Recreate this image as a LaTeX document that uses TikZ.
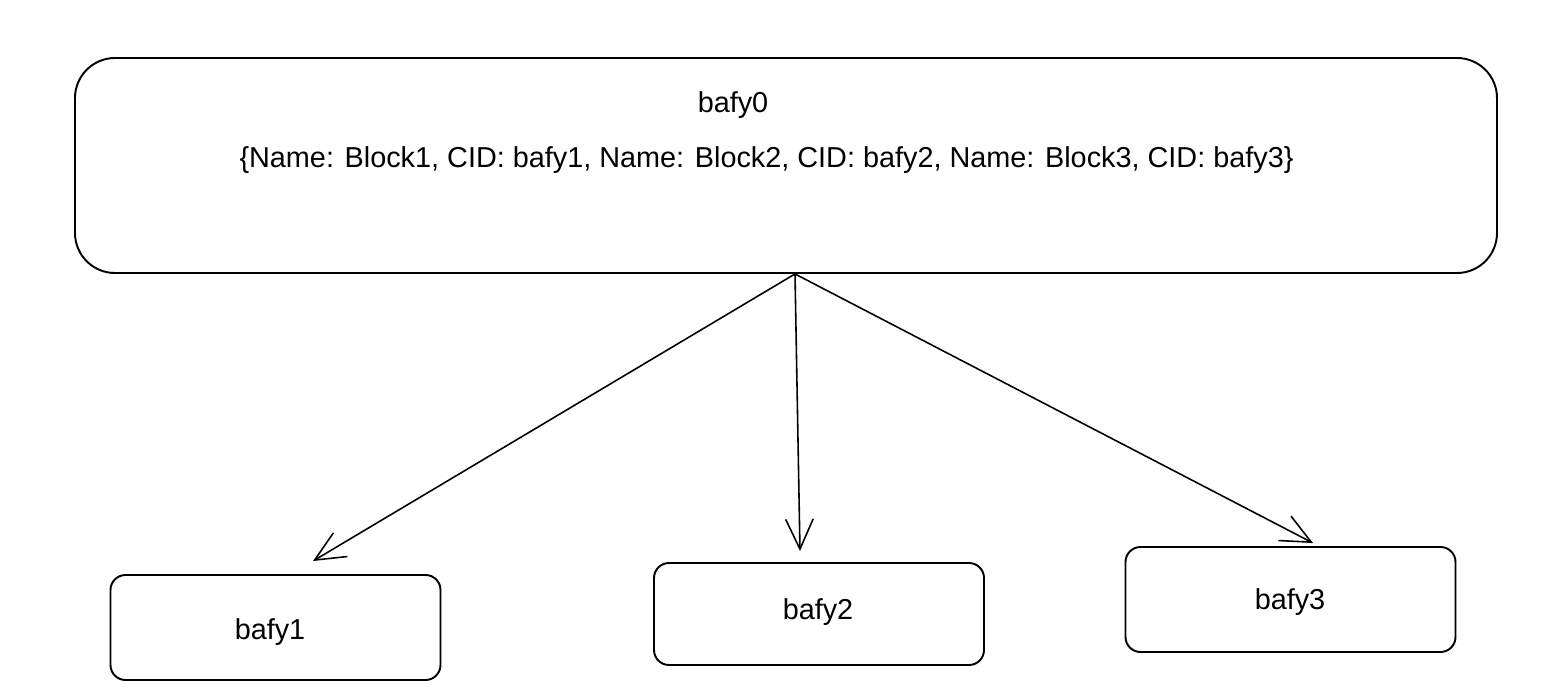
\documentclass[tikz,border=0pt]{standalone}
\usepackage{fontspec}
\setmainfont{Liberation Sans}
\usetikzlibrary{shapes,arrows.meta}
\tikzstyle{bigblock} = [rectangle,rounded corners=0.8cm,minimum width=28.44cm,minimum height=4.3cm,draw=black,line width=1.1pt]
\tikzstyle{block} = [rectangle,rounded corners=0.3cm,minimum width=6.6cm,minimum height=2.1cm,align=center,draw=black,line width=1.1pt]
\tikzstyle{label} = [font=\fontsize{16.4}{19}\selectfont]
\tikzstyle{arrow} = [line width=0.9pt, -{Straight Barb[length=0.6cm,width=0.55cm]}]

\begin{document}
\begin{tikzpicture}

\useasboundingbox (0,0) rectangle (31.16,-13.92);

\node (top) [bigblock] at (15.72,-3.31) {};
\node (topname) [label] at (14.66,-2.1) {bafy0};
\node (toplist) [label] at (15.33,-3.2) {\{Name: Block1, CID: bafy1, Name: Block2, CID: bafy2, Name: Block3, CID: bafy3\}};

\node (b1) [block] at (5.51,-12.55) {};
\node (b2) [block, minimum height=2.04cm] at (16.38,-12.28) {};
\node (b3) [block] at (25.81,-11.99) {};
\node (b1name) [label] at (5.4,-12.64) {bafy1};
\node (b2name) [label] at (16.36,-12.24) {bafy2};
\node (b3name) [label] at (25.8,-12.04) {bafy3};

\coordinate (fork) at ([xshift=0.18cm]top.south);

\draw [arrow] (fork) -- ([xshift=0.75cm,yshift=0.26cm]b1.north);
\draw [arrow] (fork) -- ([xshift=-0.38cm,yshift=0.22cm]b2.north);
\draw [arrow] (fork) -- ([xshift=0.45cm,yshift=0.06cm]b3.north);

\end{tikzpicture}
\end{document}
